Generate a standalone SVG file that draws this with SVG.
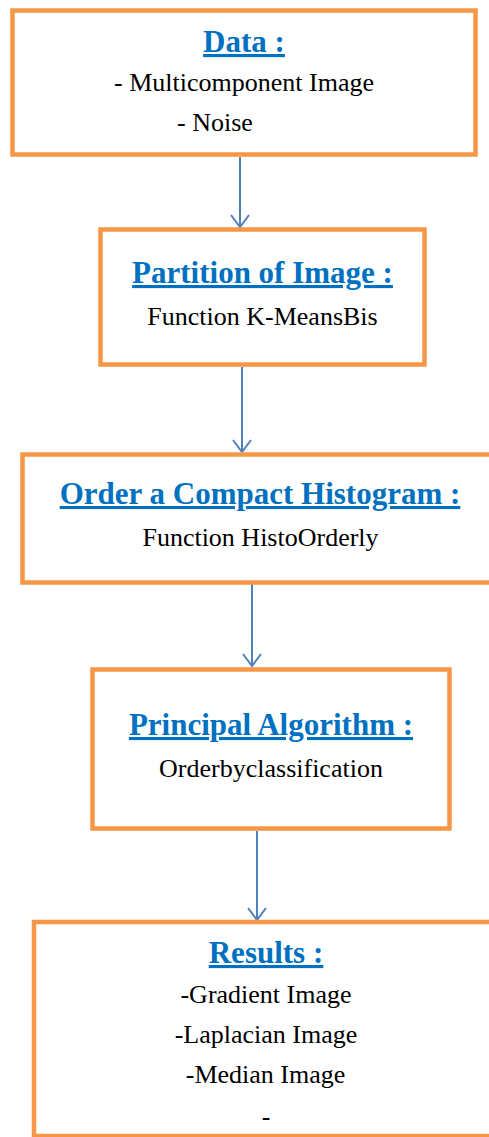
<svg xmlns="http://www.w3.org/2000/svg" width="489" height="1137" viewBox="0 0 489 1137">
  <style>
    .box { fill: #ffffff; stroke: #F79646; stroke-width: 4.5; }
    .title { font-family: "Liberation Serif", "Times New Roman", serif; font-weight: bold; font-size: 31px; fill: #0070C0; text-anchor: middle; text-decoration: underline; }
    .body { font-family: "Liberation Serif", "Times New Roman", serif; font-size: 26px; fill: #000000; text-anchor: middle; }
    .conn { stroke: #4F81BD; stroke-width: 2; fill: none; }
  </style>
  <defs>
    <marker id="vhead" markerUnits="userSpaceOnUse" markerWidth="16" markerHeight="22" viewBox="-14 -11 16 22" refX="0" refY="0" orient="auto">
      <path d="M-12,-9 L0,0 L-12,9" fill="none" stroke="#4F81BD" stroke-width="2"/>
    </marker>
  </defs>
  <rect width="489" height="1137" fill="#ffffff"/>

  <g id="connectors">
    <line class="conn" x1="240" y1="157" x2="240" y2="227" marker-end="url(#vhead)"/>
    <line class="conn" x1="242" y1="367" x2="242" y2="452" marker-end="url(#vhead)"/>
    <line class="conn" x1="252" y1="584" x2="252" y2="666" marker-end="url(#vhead)"/>
    <line class="conn" x1="257" y1="831" x2="257" y2="920" marker-end="url(#vhead)"/>
  </g>

  <g id="node-data">
    <rect class="box" x="12.5" y="10.5" width="463" height="144"/>
    <text class="title" x="244" y="52">Data :</text>
    <text class="body" x="244" y="91">- Multicomponent Image</text>
    <text class="body" x="177" y="131" style="text-anchor:start">- Noise</text>
  </g>

  <g id="node-partition">
    <rect class="box" x="100.5" y="229.5" width="324" height="135"/>
    <text class="title" x="262.5" y="283">Partition of Image :</text>
    <text class="body" x="262.5" y="325">Function K-MeansBis</text>
  </g>

  <g id="node-histogram">
    <rect class="box" x="22.5" y="454.5" width="480" height="128"/>
    <text class="title" x="260" y="504">Order a Compact Histogram :</text>
    <text class="body" x="260.5" y="546">Function HistoOrderly</text>
  </g>

  <g id="node-algorithm">
    <rect class="box" x="92.5" y="669.5" width="357" height="159"/>
    <text class="title" x="271" y="735">Principal Algorithm :</text>
    <text class="body" x="271" y="777">Orderbyclassification</text>
  </g>

  <g id="node-results">
    <rect class="box" x="34" y="922" width="470" height="214"/>
    <text class="title" x="266" y="963">Results :</text>
    <text class="body" x="266" y="1003">-Gradient Image</text>
    <text class="body" x="266" y="1043">-Laplacian Image</text>
    <text class="body" x="265.5" y="1083">-Median Image</text>
    <text class="body" x="266" y="1125">-</text>
  </g>
</svg>
